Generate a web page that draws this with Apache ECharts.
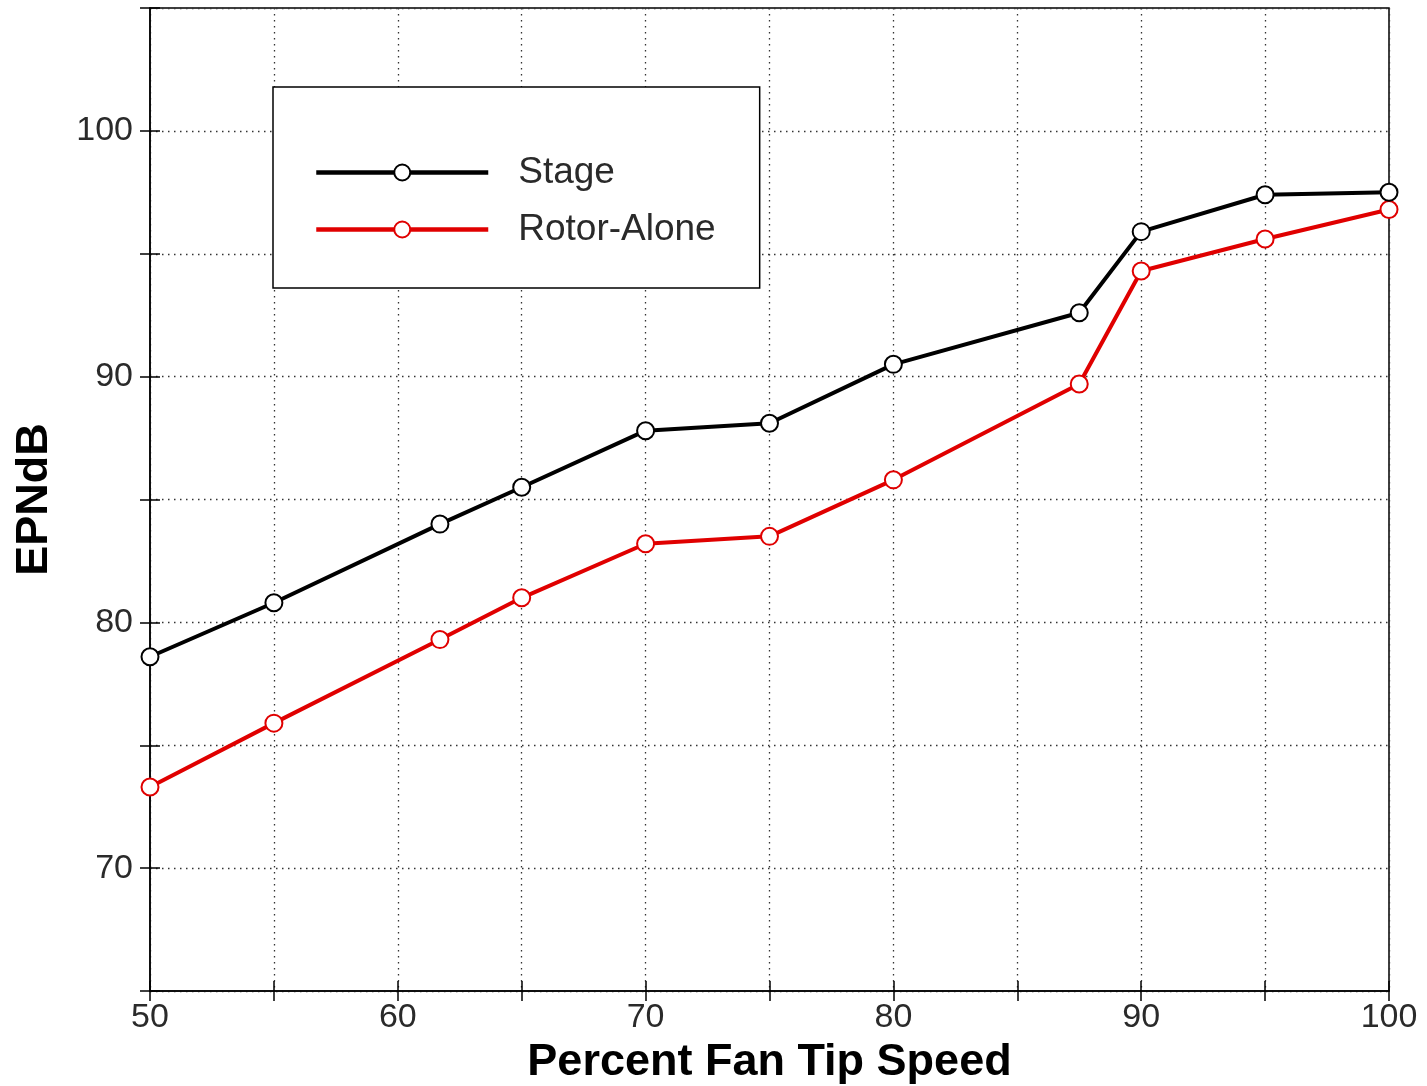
<!DOCTYPE html>
<html>
<head>
<meta charset="utf-8">
<script src="https://cdn.jsdelivr.net/npm/echarts@6/dist/echarts.min.js"></script>
<style>
html,body{margin:0;padding:0;background:#fff;}
#chart{width:1427px;height:1086px;}
</style>
</head>
<body>
<div id="chart"></div>
<script>
// Data
const tipSpeed = [50, 55, 61.7, 65, 70, 75, 80, 87.5, 90, 95, 100];
const stageEPNdB = [78.6, 80.8, 84.0, 85.5, 87.8, 88.1, 90.5, 92.6, 95.9, 97.4, 97.5];
const rotorAloneEPNdB = [73.3, 75.9, 79.3, 81.0, 83.2, 83.5, 85.8, 89.7, 94.3, 95.6, 96.8];
const seriesNames = ['Stage', 'Rotor-Alone'];
const xTickLabels = [50, 60, 70, 80, 90, 100];
const yTickLabels = [70, 80, 90, 100];

const pairs = (xs, ys) => xs.map((x, i) => [x, ys[i]]);
const FONT = '"Liberation Sans", Arial, sans-serif';
const RED = '#e00000';

const dotted = { color: '#333', width: 1.3, type: [1.5, 4.5] };

const chart = echarts.init(document.getElementById('chart'), null, { renderer: 'canvas' });
chart.setOption({
  backgroundColor: '#fff',
  animation: false,
  grid: {
    left: 150, right: 38, top: 8, bottom: 95,
    outerBoundsMode: 'none', containLabel: false,
    show: true, borderColor: '#000', borderWidth: 1.5, backgroundColor: 'transparent'
  },
  legend: {
    orient: 'vertical',
    left: 273, top: 87,
    padding: [67, 44, 40, 41],
    itemWidth: 172, itemHeight: 20, itemGap: 20,
    borderColor: '#000', borderWidth: 1.5,
    backgroundColor: '#fff',
    lineStyle: { width: 4.5 },
    textStyle: { fontFamily: FONT, fontSize: 37, color: '#2a2a2a', padding: [0, 0, 0, 25] },
    data: seriesNames
  },
  xAxis: [{
    type: 'value', min: 50, max: 100, interval: 5,
    name: 'Percent Fan Tip Speed', nameLocation: 'middle', nameGap: 27,
    nameTextStyle: { fontFamily: FONT, fontSize: 45, fontWeight: 'bold', color: '#000' },
    axisLine: { show: true, lineStyle: { color: '#000', width: 1.5 } },
    axisTick: { show: true, inside: false, length: 10, lineStyle: { color: '#000', width: 1.5 } },
    axisLabel: {
      margin: 10, fontFamily: FONT, fontSize: 34, color: '#2a2a2a',
      formatter: v => (xTickLabels.indexOf(v) >= 0 ? String(v) : '')
    },
    splitLine: { show: true, lineStyle: dotted }
  }, {
    type: 'value', min: 50, max: 100, interval: 5, position: 'bottom', gridIndex: 0,
    axisLine: { show: false },
    axisTick: { show: true, inside: true, length: 10, lineStyle: { color: '#000', width: 1.5 } },
    axisLabel: { show: false },
    splitLine: { show: false }
  }],
  yAxis: [{
    type: 'value', min: 65, max: 105, interval: 5,
    name: 'EPNdB', nameLocation: 'middle', nameGap: 93,
    nameTextStyle: { fontFamily: FONT, fontSize: 45, fontWeight: 'bold', color: '#000' },
    axisLine: { show: true, lineStyle: { color: '#000', width: 1.5 } },
    axisTick: { show: true, inside: false, length: 10, lineStyle: { color: '#000', width: 1.5 } },
    axisLabel: {
      margin: 17, fontFamily: FONT, fontSize: 34, color: '#2a2a2a',
      formatter: v => (yTickLabels.indexOf(v) >= 0 ? String(v) : '')
    },
    splitLine: { show: true, lineStyle: dotted }
  }, {
    type: 'value', min: 65, max: 105, interval: 5, position: 'left', gridIndex: 0,
    axisLine: { show: false },
    axisTick: { show: true, inside: true, length: 10, lineStyle: { color: '#000', width: 1.5 } },
    axisLabel: { show: false },
    splitLine: { show: false }
  }],
  series: [{
    name: seriesNames[0], type: 'line', xAxisIndex: 0, yAxisIndex: 0,
    data: pairs(tipSpeed, stageEPNdB),
    symbol: 'emptyCircle', symbolSize: 17,
    lineStyle: { color: '#000', width: 4 },
    itemStyle: { color: '#000', borderColor: '#000', borderWidth: 1.5 },
    z: 3
  }, {
    name: seriesNames[1], type: 'line', xAxisIndex: 0, yAxisIndex: 0,
    data: pairs(tipSpeed, rotorAloneEPNdB),
    symbol: 'emptyCircle', symbolSize: 17,
    lineStyle: { color: RED, width: 4 },
    itemStyle: { color: RED, borderColor: RED, borderWidth: 1.5 },
    z: 2
  }]
});
</script>
</body>
</html>
